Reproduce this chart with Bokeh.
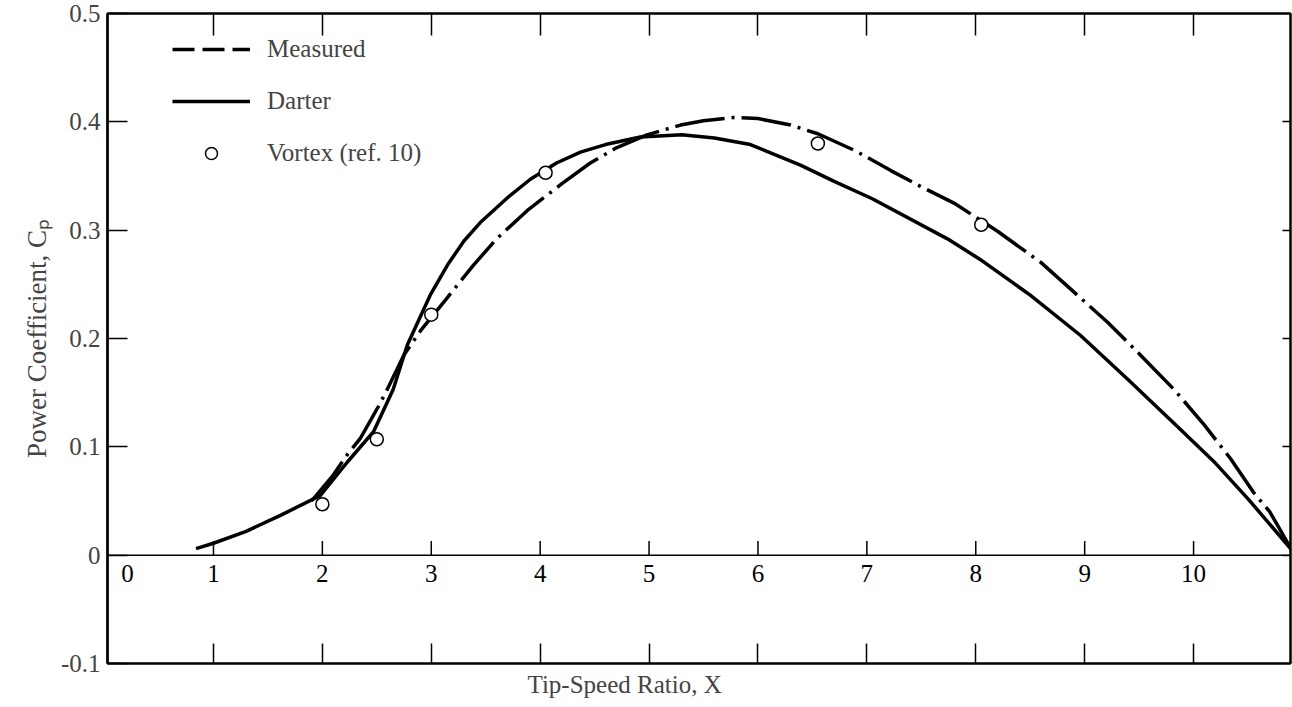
from bokeh.plotting import figure
from bokeh.models import (LinearAxis, Range1d, Span, FixedTicker, Legend,
                          LegendItem, Title, ColumnDataSource)
from bokeh.embed import file_html
from bokeh.resources import INLINE
from bokeh.core.properties import value

# ---- data ----
measured_x = [1.9, 2.1, 2.23, 2.35, 2.53, 2.61, 2.75, 2.9, 3.15, 3.39, 3.6,
              3.88, 4.2, 4.46, 4.7, 4.98, 5.29, 5.5, 5.78, 6.0, 6.3, 6.55,
              6.9, 7.22, 7.5, 7.8, 8.2, 8.6, 8.9, 9.21, 9.5, 9.82, 10.1,
              10.34, 10.55, 10.7, 10.9]
measured_y = [0.050, 0.074, 0.093, 0.108, 0.140, 0.156, 0.185, 0.207, 0.238,
              0.268, 0.292, 0.318, 0.343, 0.362, 0.376, 0.388, 0.397, 0.401,
              0.404, 0.403, 0.397, 0.389, 0.373, 0.355, 0.340, 0.325, 0.299,
              0.270, 0.243, 0.215, 0.186, 0.153, 0.120, 0.089, 0.058, 0.040,
              0.005]

darter_x = [0.84, 1.0, 1.3, 1.62, 1.98, 2.23, 2.47, 2.65, 2.78, 2.99, 3.15,
            3.3, 3.45, 3.7, 3.91, 4.15, 4.37, 4.6, 4.92, 5.3, 5.6, 5.93, 6.39,
            6.7, 7.05, 7.74, 8.04, 8.5, 8.96, 9.4, 9.88, 10.2, 10.5, 10.9]
darter_y = [0.006, 0.011, 0.022, 0.037, 0.055, 0.086, 0.114, 0.153, 0.194,
            0.240, 0.268, 0.290, 0.307, 0.330, 0.347, 0.362, 0.372, 0.379,
            0.386, 0.388, 0.385, 0.379, 0.360, 0.345, 0.329, 0.292, 0.273,
            0.240, 0.203, 0.162, 0.116, 0.085, 0.052, 0.005]

vortex_x = [2.0, 2.5, 3.0, 4.05, 6.55, 8.05]
vortex_y = [0.047, 0.107, 0.222, 0.353, 0.380, 0.305]

x_ticks = [0, 1, 2, 3, 4, 5, 6, 7, 8, 9, 10]
x_tick_labels = ["0", "1", "2", "3", "4", "5", "6", "7", "8", "9", "10"]
y_ticks = [-0.1, 0.0, 0.1, 0.2, 0.3, 0.4, 0.5]
y_tick_labels = ["-0.1", "0", "0.1", "0.2", "0.3", "0.4", "0.5"]

FONT = "Liberation Serif"
FS = "25px"

p = figure(width=1292, height=707, output_backend="svg", toolbar_location=None,
           x_range=Range1d(0.027, 10.89), y_range=Range1d(-0.1, 0.5),
           x_axis_location=None, y_axis_location=None,
           min_border_left=107, min_border_right=2, min_border_top=13,
           min_border_bottom=44)
p.grid.visible = False
p.outline_line_color = "black"
p.outline_line_width = 2
p.background_fill_color = "white"
p.border_fill_color = "white"

# left axis
left = LinearAxis(ticker=FixedTicker(ticks=y_ticks),
                  major_label_overrides={t: l for t, l in zip(y_ticks, y_tick_labels)},
                  major_tick_in=20, major_tick_out=0, minor_tick_line_color=None,
                  major_tick_line_width=1.5, axis_line_width=2.5,
                  major_label_text_font=FONT, major_label_text_font_size=FS,
                  major_label_standoff=7,
                  axis_label="Power Coefficient, C\u209a",
                  axis_label_text_font=FONT, axis_label_text_font_size="27px",
                  axis_label_text_font_style="normal", axis_label_standoff=6)
p.add_layout(left, "left")


def tick_only_axis(ticks, tick_len):
    return LinearAxis(ticker=FixedTicker(ticks=ticks),
                      major_label_overrides={t: "" for t in ticks},
                      major_tick_in=tick_len, major_tick_out=0,
                      minor_tick_line_color=None, major_tick_line_width=1.5,
                      axis_line_width=2, major_label_text_font_size="1px",
                      major_label_standoff=0)


p.add_layout(tick_only_axis(y_ticks[1:-1], 8), "right")
p.add_layout(tick_only_axis(x_ticks[1:], 22), "above")
p.add_layout(tick_only_axis(x_ticks[1:], 20), "below")

# zero line with ticks and labels
p.add_layout(Span(location=0, dimension="width", line_color="black", line_width=1.5))
p.segment(x0=x_ticks[1:], y0=[0] * 10, x1=x_ticks[1:], y1=[0.013] * 10,
          line_color="black", line_width=1.5)
lab_src = ColumnDataSource(dict(x=x_ticks, y=[0] * len(x_ticks), t=x_tick_labels,
                                dx=[23 if v == 0 else 0 for v in x_ticks]))
p.text(x="x", y="y", text="t", x_offset="dx", y_offset=10, source=lab_src,
       text_align="center", text_baseline="top", text_font=value(FONT),
       text_font_size=FS, text_color="black")

# curves
r_meas = p.line(measured_x, measured_y, line_color="black", line_width=3.5,
                line_dash="50 7 3 7")
r_dart = p.line(darter_x, darter_y, line_color="black", line_width=3.5)
r_vort = p.scatter(vortex_x, vortex_y, marker="circle", size=13,
                   fill_color="white", line_color="black", line_width=1.5)

# legend sample for measured (dashed in the key); a single point draws nothing
r_meas_key = p.line(measured_x[:1], measured_y[:1], line_color="black",
                    line_width=3.5, line_dash="22 8")

legend = Legend(items=[LegendItem(label="Measured", renderers=[r_meas_key]),
                       LegendItem(label="Darter", renderers=[r_dart]),
                       LegendItem(label="Vortex (ref. 10)", renderers=[r_vort])],
                location=(65, 495), glyph_width=78, glyph_height=30,
                label_height=30, spacing=22, padding=10, margin=0,
                label_standoff=17, border_line_color=None,
                background_fill_alpha=0, label_text_font=FONT,
                label_text_font_size=FS)
p.add_layout(legend)

p.add_layout(Title(text="Tip-Speed Ratio, X", align="left", offset=420,
                   standoff=10, text_font=FONT, text_font_size=FS,
                   text_font_style="normal"), "below")

open("out.html", "w").write(file_html(p, INLINE))
